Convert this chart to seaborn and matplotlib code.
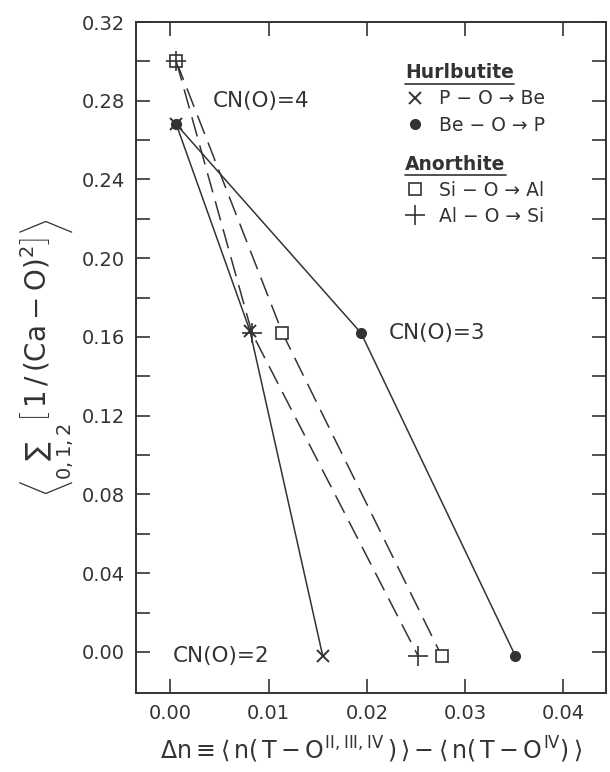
import pandas as pd
import matplotlib.pyplot as plt
import seaborn as sns
from matplotlib.lines import Line2D
from matplotlib.ticker import FixedLocator

# values (CN(O) = 4, 3, 2)
cn_values = [4, 3, 2]
p_o_be_x = [0.0006, 0.0081, 0.0155]
p_o_be_y = [0.268, 0.163, -0.002]
be_o_p_x = [0.0006, 0.0194, 0.0351]
be_o_p_y = [0.268, 0.162, -0.002]
si_o_al_x = [0.0006, 0.0114, 0.0276]
si_o_al_y = [0.300, 0.162, -0.002]
al_o_si_x = [0.0006, 0.0083, 0.0252]
al_o_si_y = [0.300, 0.162, -0.002]

series_names = ["P-O -> Be", "Be-O -> P", "Si-O -> Al", "Al-O -> Si"]
series_x = [p_o_be_x, be_o_p_x, si_o_al_x, al_o_si_x]
series_y = [p_o_be_y, be_o_p_y, si_o_al_y, al_o_si_y]

x_ticks = [0.0, 0.01, 0.02, 0.03, 0.04]
x_labels = ["0.00", "0.01", "0.02", "0.03", "0.04"]
y_ticks = [0.0, 0.04, 0.08, 0.12, 0.16, 0.20, 0.24, 0.28, 0.32]
y_labels = ["0.00", "0.04", "0.08", "0.12", "0.16", "0.20", "0.24", "0.28", "0.32"]
y_minor = [0.02, 0.06, 0.10, 0.14, 0.18, 0.22, 0.26, 0.30]

rows = []
for name, xs, ys in zip(series_names, series_x, series_y):
    for cn, x, y in zip(cn_values, xs, ys):
        rows.append({"series": name, "cn": cn, "dn": x, "ca": y})
df = pd.DataFrame(rows)

sns.set_style("ticks")
plt.rcParams["font.family"] = ["DejaVu Sans"]
plt.rcParams["mathtext.fontset"] = "custom"
plt.rcParams["mathtext.rm"] = "DejaVu Sans"
plt.rcParams["mathtext.it"] = "DejaVu Sans"

ink = "#333333"
fig = plt.figure(figsize=(6.1, 7.72), dpi=100)
ax = fig.add_axes([0.223, 0.102, 0.770, 0.8695])

styles = {
    "P-O -> Be": dict(marker="x", ms=9, mew=1.4, ls="-", mfc=ink),
    "Be-O -> P": dict(marker="o", ms=7, mew=1.0, ls="-", mfc=ink),
    "Si-O -> Al": dict(marker="s", ms=9, mew=1.2, ls=(0, (13, 6)), mfc="white"),
    "Al-O -> Si": dict(marker="+", ms=14, mew=1.2, ls=(0, (13, 6)), mfc=ink),
}
for name in series_names:
    st = styles[name]
    sns.lineplot(data=df[df["series"] == name], x="dn", y="ca", ax=ax,
                 color=ink, lw=1.1, marker=st["marker"], markersize=st["ms"],
                 markeredgewidth=st["mew"], markerfacecolor=st["mfc"],
                 markeredgecolor=ink, linestyle=st["ls"], sort=False,
                 estimator=None, zorder=3)

ax.set_xlim(-0.0035, 0.0443)
ax.set_ylim(-0.021, 0.32)
ax.set_xticks(x_ticks)
ax.set_xticklabels(x_labels)
ax.set_yticks(y_ticks)
ax.set_yticklabels(y_labels)
ax.yaxis.set_minor_locator(FixedLocator(y_minor))
ax.tick_params(axis="both", which="major", direction="in", length=10, width=1.2,
               labelsize=14, colors=ink, top=True, right=True, pad=8)
ax.tick_params(axis="y", which="minor", direction="in", length=10, width=1.2,
               right=True, left=True, colors=ink)
for sp in ax.spines.values():
    sp.set_color(ink)
    sp.set_linewidth(1.4)

ax.text(0.0043, 0.280, "CN(O)=4", fontsize=15.5, color=ink, va="center")
ax.text(0.0222, 0.162, "CN(O)=3", fontsize=15.5, color=ink, va="center")
ax.text(0.0002, -0.002, "CN(O)=2", fontsize=15.5, color=ink, va="center")

ax.set_xlabel(r"$\Delta n \equiv \langle\, n(\,T-O^{II,III,IV}\,)\, \rangle - \langle\, n(\,T-O^{IV})\, \rangle$",
              fontsize=17, color=ink, labelpad=8)
ax.set_ylabel(r"$\left\langle \sum_{0,1,2}\left[\,1\,/\,(\mathrm{Ca-O})^2\right]\right\rangle$",
              fontsize=20, color=ink, labelpad=4)

h1 = [Line2D([], [], color=ink, marker="x", ls="none", ms=9, mew=1.4),
      Line2D([], [], color=ink, marker="o", ls="none", ms=7)]
leg1 = ax.legend(h1, ["P \u2212 O \u2192 Be", "Be \u2212 O \u2192 P"],
                 title="Hurlbutite", loc="upper left",
                 bbox_to_anchor=(0.545, 0.958), frameon=False, fontsize=13.5,
                 title_fontsize=13.5, handlelength=1.0, handletextpad=0.8,
                 labelspacing=0.38, borderpad=0.2, alignment="left",
                 labelcolor=ink)
ax.add_artist(leg1)
h2 = [Line2D([], [], color=ink, marker="s", ls="none", ms=9, mfc="white", mew=1.2),
      Line2D([], [], color=ink, marker="+", ls="none", ms=14, mew=1.2)]
leg2 = ax.legend(h2, ["Si \u2212 O \u2192 Al", "Al \u2212 O \u2192 Si"],
                 title="Anorthite", loc="upper left",
                 bbox_to_anchor=(0.545, 0.822), frameon=False, fontsize=13.5,
                 title_fontsize=13.5, handlelength=1.0, handletextpad=0.8,
                 labelspacing=0.38, borderpad=0.2, alignment="left",
                 labelcolor=ink)

# underline the two legend titles
inv = fig.transFigure.inverted()
for leg in (leg1, leg2):
    t = leg.get_title()
    t.set_color(ink)
    t.set_fontweight("bold")
    fig.canvas.draw()
    bb = t.get_window_extent().transformed(inv)
    fig.add_artist(Line2D([bb.x0, bb.x1], [bb.y0 - 0.002, bb.y0 - 0.002],
                          transform=fig.transFigure, color=ink, lw=1.2))

fig.savefig("out.png", dpi=100)
